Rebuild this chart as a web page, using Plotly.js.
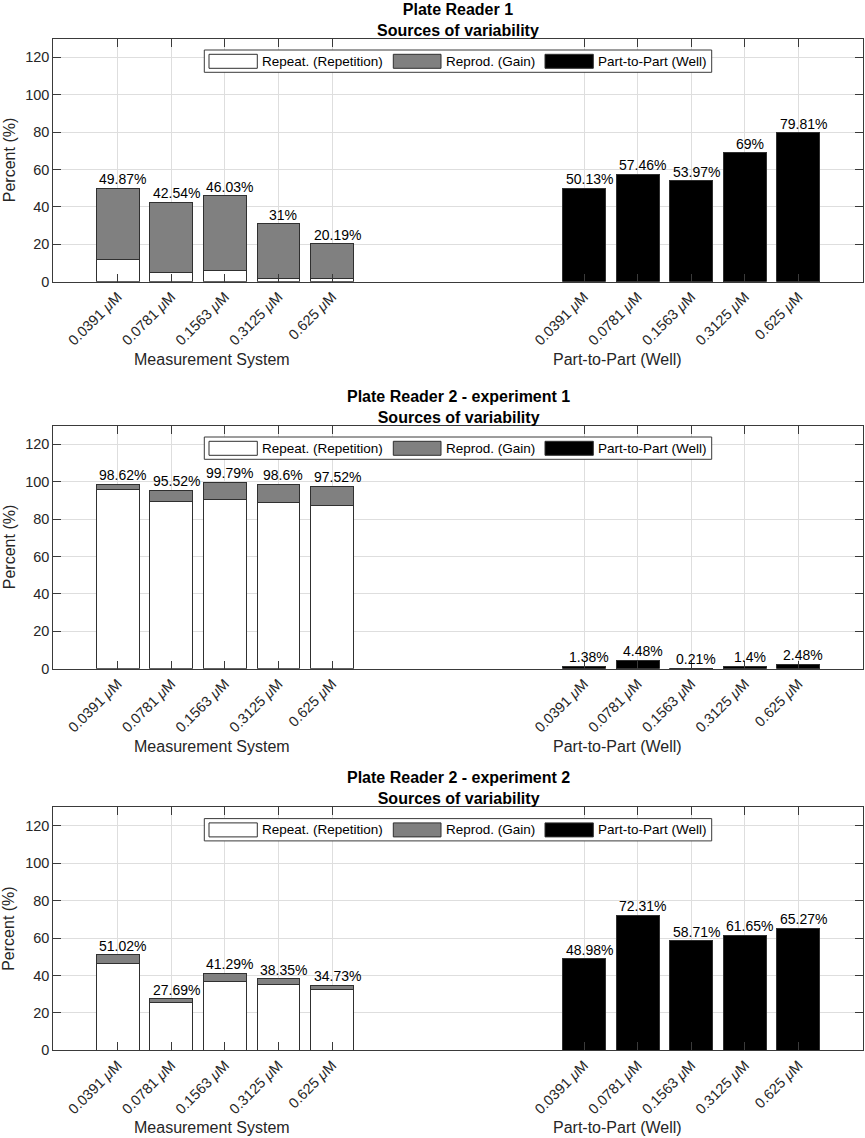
<!DOCTYPE html>
<html>
<head>
<meta charset="utf-8">
<script src="https://cdn.plot.ly/plotly-3.0.1.min.js"></script>
<style>html,body{margin:0;padding:0;background:#fff}</style>
</head>
<body>
<div id="chart" style="width:865px;height:1138px"></div>
<script>
var concentrations = ['0.0391', '0.0781', '0.1563', '0.3125', '0.625'];
var panelTitles = ['Plate Reader 1', 'Plate Reader 2 - experiment 1', 'Plate Reader 2 - experiment 2'];
var seriesNames = ['Repeat. (Repetition)', 'Reprod. (Gain)', 'Part-to-Part (Well)'];
var groupNames = ['Measurement System', 'Part-to-Part (Well)'];
var yTicks = [0, 20, 40, 60, 80, 100, 120];

// Plate Reader 1
var repeat1 = [12.1, 5.0, 6.1, 1.8, 1.8];
var reprod1 = [37.77, 37.54, 39.93, 29.2, 18.39];
var part1 = [50.13, 57.46, 53.97, 69, 79.81];

// Plate Reader 2 - experiment 1
var repeat2 = [95.9, 89.5, 90.7, 88.9, 87.2];
var reprod2 = [2.72, 6.02, 9.09, 9.7, 10.32];
var part2 = [1.38, 4.48, 0.21, 1.4, 2.48];

// Plate Reader 2 - experiment 2
var repeat3 = [46.2, 25.7, 36.9, 35.3, 32.4];
var reprod3 = [4.82, 1.99, 4.39, 3.05, 2.33];
var part3 = [48.98, 72.31, 58.71, 61.65, 65.27];

var repeats = [repeat1, repeat2, repeat3];
var reprods = [reprod1, reprod2, reprod3];
var parts = [part1, part2, part3];

// layout constants (pixels of the 865x1138 page)
var W = 865, H = 1138;
var axLeft = 53.3, axRight = 863.3, axHeight = 243;
var axTops = [38.7, 425.7, 807.3];
var groupGap = 8.7;
var xRange = [-0.2, 14.91];

var fontFam = 'Liberation Sans, Arial, Helvetica, sans-serif';
var ink = '#262626';
var edge = '#303030';

var leftX = concentrations.map(function(c, i){ return i + 1; });
var rightX = leftX.map(function(v){ return v + groupGap; });
var tickText = concentrations.map(function(c){ return c + ' <i>\u03bc</i>M'; });

function fmt(v){ return parseFloat(v.toFixed(2)) + '%'; }

var data = [];
var layout = {
  width: W, height: H,
  margin: {l: 0, r: 0, t: 0, b: 0},
  paper_bgcolor: '#fff', plot_bgcolor: '#fff',
  barmode: 'stack',
  showlegend: false,
  font: {family: fontFam, color: ink},
  annotations: [],
  shapes: []
};

var aw = axRight - axLeft;
function fx(px){ return (px - axLeft) / aw; }
function fy(py){ return 1 - py / axHeight; }

for (var k = 0; k < 3; k++) {
  var s = k === 0 ? '' : String(k + 1);
  var xa = 'x' + s, ya = 'y' + s;

  data.push({type: 'bar', name: seriesNames[0], x: leftX, y: repeats[k], width: 0.8,
    xaxis: xa, yaxis: ya, marker: {color: '#ffffff', line: {color: edge, width: 1}}, hoverinfo: 'y'});
  data.push({type: 'bar', name: seriesNames[1], x: leftX, y: reprods[k], width: 0.8,
    xaxis: xa, yaxis: ya, marker: {color: '#808080', line: {color: edge, width: 1}}, hoverinfo: 'y'});
  data.push({type: 'bar', name: seriesNames[2], x: rightX, y: parts[k], width: 0.8,
    xaxis: xa, yaxis: ya, marker: {color: '#000000', line: {color: edge, width: 1}}, hoverinfo: 'y'});

  var axTop = axTops[k];
  var dom = [1 - (axTop + axHeight) / H, 1 - axTop / H];

  layout['xaxis' + s] = {
    domain: [axLeft / W, axRight / W], anchor: ya, range: xRange,
    tickvals: leftX.concat(rightX), ticktext: tickText.concat(tickText),
    tickangle: -45, tickfont: {size: 14.5, color: ink, family: fontFam},
    ticks: 'inside', ticklen: 8, tickcolor: '#3a3a3a',
    showline: true, linecolor: '#3a3a3a', linewidth: 1, mirror: 'ticks',
    showgrid: true, gridcolor: '#dedede', zeroline: false, fixedrange: true
  };
  layout['yaxis' + s] = {
    domain: dom, anchor: xa, range: [0, 130], tickvals: yTicks,
    tickfont: {size: 14.5, color: ink, family: fontFam},
    ticks: 'inside', ticklen: 8, tickcolor: '#3a3a3a',
    showline: true, linecolor: '#3a3a3a', linewidth: 1, mirror: 'ticks',
    showgrid: true, gridcolor: '#dedede', zeroline: false, fixedrange: true
  };

  var xd = xa + ' domain', yd = ya + ' domain';

  // panel title
  layout.annotations.push({xref: xd, yref: yd, x: 0.5, y: 1, xanchor: 'center', yanchor: 'bottom',
    yshift: -2, showarrow: false, font: {size: 16, color: '#000'},
    text: '<b>' + panelTitles[k] + '</b><br><b>Sources of variability</b>'});
  // y title
  layout.annotations.push({xref: 'paper', yref: yd, x: 9 / W, y: 0.5, xanchor: 'center', yanchor: 'middle',
    textangle: -90, showarrow: false, font: {size: 16, color: ink}, text: 'Percent (%)'});
  // group labels
  layout.annotations.push({xref: xd, yref: yd, x: fx(212.2), y: -77.3 / axHeight,
    xanchor: 'center', yanchor: 'middle', showarrow: false, font: {size: 16, color: ink}, text: groupNames[0]});
  layout.annotations.push({xref: xd, yref: yd, x: fx(617), y: -77.3 / axHeight,
    xanchor: 'center', yanchor: 'middle', showarrow: false, font: {size: 16, color: ink}, text: groupNames[1]});

  // value labels on top of bars
  for (var i = 0; i < concentrations.length; i++) {
    var tot = repeats[k][i] + reprods[k][i];
    layout.annotations.push({xref: xa, yref: ya, x: leftX[i], y: tot, xanchor: 'center', yanchor: 'bottom',
      xshift: 5, borderpad: 0, showarrow: false, font: {size: 14, color: '#000'}, text: fmt(tot)});
    layout.annotations.push({xref: xa, yref: ya, x: rightX[i], y: parts[k][i], xanchor: 'center', yanchor: 'bottom',
      xshift: 5, borderpad: 0, showarrow: false, font: {size: 14, color: '#000'}, text: fmt(parts[k][i])});
  }

  // legend drawn by hand (wide MATLAB-style swatches)
  layout.shapes.push({type: 'rect', xref: xd, yref: yd, x0: fx(204.3), x1: fx(711.7), y0: fy(11.3), y1: fy(33.6),
    fillcolor: '#fff', line: {color: '#3a3a3a', width: 1}});
  var sw = [[209, 257.3, 261, '#ffffff'], [393.3, 441, 445, '#808080'], [545, 593.3, 597, '#000000']];
  for (var j = 0; j < 3; j++) {
    layout.shapes.push({type: 'rect', xref: xd, yref: yd, x0: fx(sw[j][0]), x1: fx(sw[j][1]), y0: fy(15.6), y1: fy(29.6),
      fillcolor: sw[j][3], line: {color: edge, width: 1}});
    layout.annotations.push({xref: xd, yref: yd, x: fx(sw[j][2]), y: fy(22.6), xanchor: 'left', yanchor: 'middle',
      showarrow: false, borderpad: 0, font: {size: 13.5, color: '#000'}, text: seriesNames[j]});
  }
}

Plotly.newPlot('chart', data, layout, {staticPlot: true});
</script>
</body>
</html>
